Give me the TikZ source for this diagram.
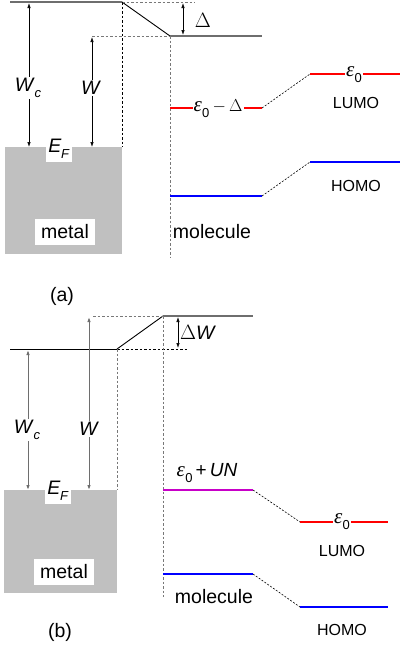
\documentclass[tikz,border=0pt]{standalone}
\usepackage{fontspec}
\setmainfont{Liberation Sans}
\newfontfamily\greekserif{Liberation Serif}
\usetikzlibrary{arrows.meta}
\definecolor{metalgray}{RGB}{192,192,192}
\definecolor{linegray}{RGB}{110,110,110}
\definecolor{dashgray}{RGB}{120,120,120}
\definecolor{lvlred}{RGB}{255,0,0}
\definecolor{lvlblue}{RGB}{0,0,255}
\definecolor{lvlmag}{RGB}{200,0,200}
\newcommand{\lbsub}[1]{\raisebox{-0.32em}{\fontsize{13}{13}\selectfont #1}}
\newcommand{\epsz}{{\greekserif\itshape\fontsize{21}{21}\selectfont ε}\kern0.02em\lbsub{0}}
\newcommand{\Wcl}{\textit{W}\kern-0.02em\lbsub{\textit{c}}}
\newcommand{\EFl}{\textit{E}\kern-0.02em\lbsub{\textit{F}}}
\begin{document}
\begin{tikzpicture}[x=1pt,y=-1pt,
  graylvl/.style={draw=linegray,line width=1.3pt},
  blacklvl/.style={draw=black,line width=0.9pt},
  slant/.style={draw=black,line width=0.9pt},
  dashg/.style={draw=dashgray,line width=1pt,dash pattern=on 2.5pt off 2pt},
  dashk/.style={draw=black,line width=0.9pt,dash pattern=on 2.5pt off 2pt},
  linkdot/.style={draw=black,line width=0.6pt,dash pattern=on 2pt off 1.5pt},
  twoarrow/.style={line width=0.7pt,{Latex[length=5pt,width=3.5pt]}-{Latex[length=5pt,width=3.5pt]}},
  twoarrowg/.style={draw=linegray,line width=1pt,{Latex[length=5pt,width=3.5pt]}-{Latex[length=5pt,width=3.5pt]}},
  redlvl/.style={draw=lvlred,line width=2pt},
  bluelvl/.style={draw=lvlblue,line width=2pt},
  maglvl/.style={draw=lvlmag,line width=2pt},
  big/.style={font=\fontsize{19.5}{20}\selectfont},
  small/.style={font=\fontsize{16}{17}\selectfont},
  mlab/.style={font=\fontsize{19}{20}\selectfont},
  wbox/.style={fill=white,inner sep=1.5pt}]
\useasboundingbox (0,0) rectangle (400,649);

% ================= (a) =================
\fill[metalgray] (5,147) rectangle (122,254);
\coordinate (aTL) at (10,2);
\coordinate (aK1) at (122,2);
\coordinate (aK2) at (170,36);
\coordinate (aTR) at (262,36);
\coordinate (aD1) at (195,2);
\coordinate (aD2) at (92,36);
\coordinate (aM1) at (122,147);
\coordinate (aM2) at (170,258);
\draw[graylvl] (aTL) -- (aK1);
\draw[slant] (aK1) -- (aK2);
\draw[graylvl] (aK2) -- (aTR);
\draw[dashg] (aK1) -- (aD1);
\draw[dashg] (aD2) -- (aK2);
\draw[dashk] (aK1) -- (aM1);
\draw[dashg] (aK2) -- (aM2);

\coordinate (aWcT) at (29,3);
\coordinate (aWcB) at (29,147);
\coordinate (aWT) at (92,37);
\coordinate (aWB) at (92,147);
\draw[twoarrow] (aWcT) -- (aWcB);
\draw[twoarrow] (aWT) -- (aWB);
\node[wbox,big] (aWc) at (28,88) {\Wcl};
\node[wbox,big] (aW) at (91,88) {\textit{W}};
\node[wbox,big,inner xsep=2pt,inner ysep=3pt] (aEF) at (59,149) {\EFl};
\node[wbox,big,inner xsep=6pt,inner ysep=6pt] (ametal) at (65,232) {metal};

\coordinate (aDT) at (183,3);
\coordinate (aDB) at (183,35);
\draw[twoarrow] (aDT) -- (aDB);
\node[big] (aDl) at (203,20) {$\Delta$};

% molecule levels (a)
\coordinate (aLl) at (170,108);
\coordinate (aLr) at (262,108);
\coordinate (aRl) at (310,74);
\coordinate (aRr) at (400,74);
\draw[redlvl] (aLl) -- (aLr);
\node[wbox,mlab,inner sep=1pt] (aeps) at (218,109) {\epsz\,$-$\,$\Delta$};
\draw[linkdot] (aLr) -- (aRl);
\draw[redlvl] (aRl) -- (aRr);
\node[wbox,mlab,inner sep=1pt] (aeps0) at (354,75) {\epsz};
\node[small] (aLUMO) at (356,103) {LUMO};

\coordinate (aHl) at (170,196);
\coordinate (aHr) at (262,196);
\coordinate (aHRl) at (310,162);
\coordinate (aHRr) at (400,162);
\draw[bluelvl] (aHl) -- (aHr);
\draw[linkdot] (aHr) -- (aHRl);
\draw[bluelvl] (aHRl) -- (aHRr);
\node[small] (aHOMO) at (356,186) {HOMO};

\node[big] (amol) at (212,232) {molecule};
\node[big] (alab) at (62,296) {(a)};

% ================= (b) =================
\fill[metalgray] (4,490) rectangle (117,593);
\coordinate (bTL) at (10,349);
\coordinate (bK1) at (117,349);
\coordinate (bK2) at (163,316);
\coordinate (bTR) at (253,316);
\coordinate (bD1) at (188,349);
\coordinate (bD2) at (93,316);
\coordinate (bM1) at (117,490);
\coordinate (bM2) at (163,597);
\draw[blacklvl] (bTL) -- (bK1);
\draw[slant] (bK1) -- (bK2);
\draw[graylvl] (bK2) -- (bTR);
\draw[dashk] (bK1) -- (bD1);
\draw[dashg] (bD2) -- (bK2);
\draw[dashg] (bK1) -- (bM1);
\draw[dashg] (bK2) -- (bM2);

\coordinate (bWcT) at (28,350);
\coordinate (bWcB) at (28,490);
\coordinate (bWT) at (89,317);
\coordinate (bWB) at (89,490);
\draw[twoarrowg] (bWcT) -- (bWcB);
\draw[twoarrowg] (bWT) -- (bWB);
\node[wbox,big] (bWc) at (27,430) {\Wcl};
\node[wbox,big] (bW) at (89,429) {\textit{W}};
\node[wbox,big,inner xsep=2pt,inner ysep=3pt] (bEF) at (58,491) {\EFl};
\node[wbox,big,inner xsep=6pt,inner ysep=6pt] (bmetal) at (64,572) {metal};

\coordinate (bDT) at (178,317);
\coordinate (bDB) at (178,348);
\draw[twoarrow] (bDT) -- (bDB);
\node[big] (bDl) at (198,332) {$\Delta$\textit{W}};

% molecule levels (b)
\coordinate (bLl) at (163,490);
\coordinate (bLr) at (253,490);
\coordinate (bRl) at (300,522);
\coordinate (bRr) at (388,522);
\draw[maglvl] (bLl) -- (bLr);
\node[mlab] (beps) at (207,473) {\epsz\,+\,\textit{UN}};
\draw[linkdot] (bLr) -- (bRl);
\draw[redlvl] (bRl) -- (bRr);
\node[wbox,mlab,inner sep=1pt] (beps0) at (342,522) {\epsz};
\node[small] (bLUMO) at (342,551) {LUMO};

\coordinate (bHl) at (163,574);
\coordinate (bHr) at (253,574);
\coordinate (bHRl) at (300,607);
\coordinate (bHRr) at (388,607);
\draw[bluelvl] (bHl) -- (bHr);
\draw[linkdot] (bHr) -- (bHRl);
\draw[bluelvl] (bHRl) -- (bHRr);
\node[small] (bHOMO) at (342,630) {HOMO};

\node[big] (bmol) at (214,597) {molecule};
\node[big] (blab) at (60,632) {(b)};
\end{tikzpicture}
\end{document}
